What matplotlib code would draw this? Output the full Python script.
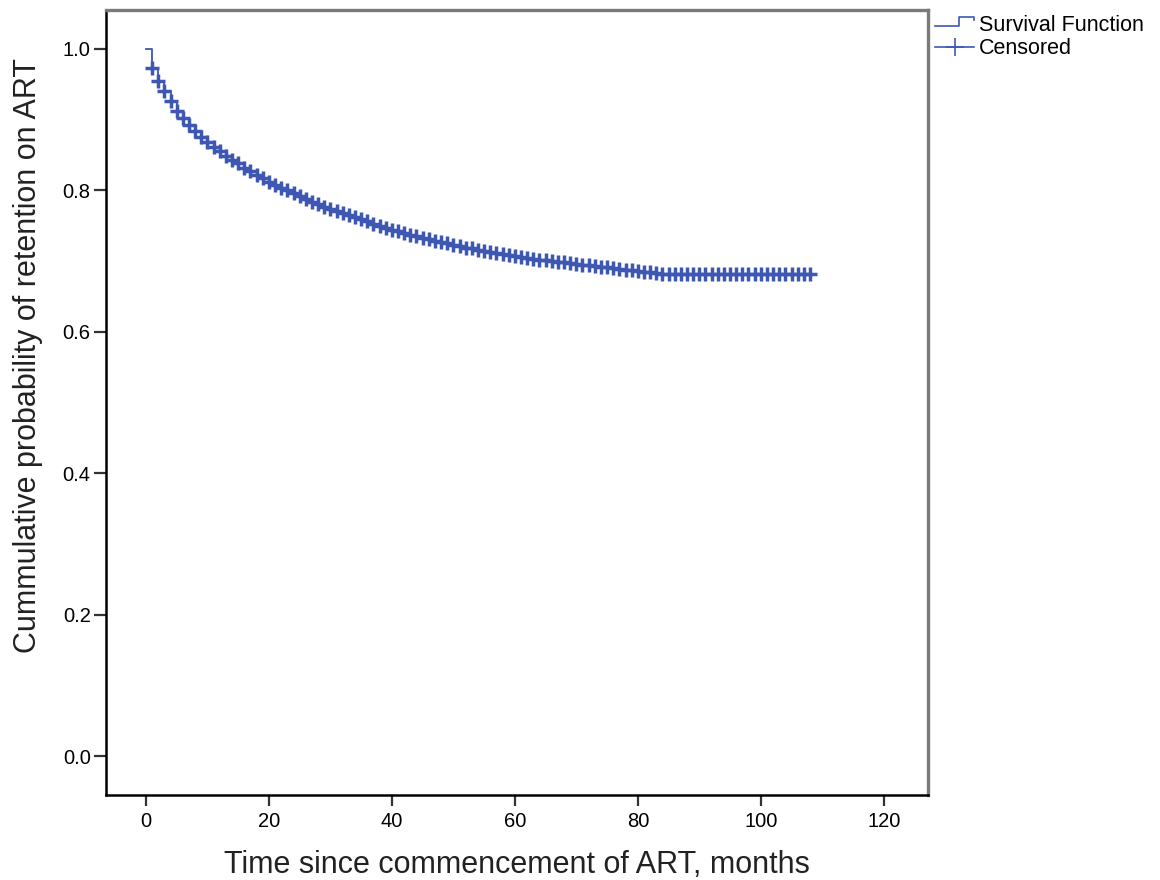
import matplotlib
matplotlib.use("Agg")
import matplotlib.pyplot as plt
from matplotlib.lines import Line2D
from matplotlib.legend_handler import HandlerBase
import numpy as np

plt.rcParams['font.family'] = ['Liberation Sans', 'DejaVu Sans']

# Kaplan-Meier estimate, one value per month
months = list(range(0, 109))
surv = [1.000, 0.973, 0.955, 0.940, 0.927, 0.912, 0.902, 0.893, 0.884, 0.876,
        0.868, 0.861, 0.855, 0.849, 0.843, 0.838, 0.832, 0.827, 0.822, 0.817,
        0.812, 0.808, 0.804, 0.800, 0.796, 0.792, 0.788, 0.784, 0.781, 0.777,
        0.774, 0.771, 0.768, 0.765, 0.762, 0.759, 0.756, 0.753, 0.750, 0.747,
        0.744, 0.742, 0.739, 0.737, 0.735, 0.733, 0.731, 0.729, 0.727, 0.725,
        0.723, 0.721, 0.719, 0.718, 0.716, 0.714, 0.713, 0.711, 0.710, 0.708,
        0.707, 0.706, 0.705, 0.703, 0.702, 0.701, 0.700, 0.699, 0.698, 0.697,
        0.696, 0.695, 0.694, 0.693, 0.692, 0.691, 0.690, 0.689, 0.688, 0.687,
        0.686, 0.685, 0.684, 0.683] + [0.682] * 25
censor_t = months[1:]
censor_s = surv[1:]

xticks = [0, 20, 40, 60, 80, 100, 120]
yticks = [0.0, 0.2, 0.4, 0.6, 0.8, 1.0]

BLUE = "#3d57b3"


class StepHandler(HandlerBase):
    # little step glyph like SPSS legend
    def create_artists(self, legend, orig_handle, xdescent, ydescent,
                       width, height, fontsize, trans):
        x0, x1 = -xdescent, -xdescent + width
        ylo = -ydescent + height * 0.3
        yhi = -ydescent + height * 0.95
        xs = [x0, x0 + width * 0.6, x0 + width * 0.6, x1, x1]
        ys = [ylo, ylo, yhi, yhi, yhi - height * 0.2]
        ln = Line2D(xs, ys, color=orig_handle.get_color(), lw=1.2)
        ln.set_transform(trans)
        return [ln]


fig = plt.figure(figsize=(11.6, 8.8), dpi=100)
ax = fig.add_axes([0.0914, 0.0966, 0.7086, 0.892])

step_line, = ax.plot(months, surv, drawstyle="steps-post",
                     color=BLUE, lw=1.3)
ax.plot(censor_t, censor_s, linestyle="none", marker="+", color=BLUE,
        markersize=9.5, markeredgewidth=2.5)

ax.set_xlim(-6.5, 127.2)
ax.set_ylim(-0.055, 1.055)
ax.set_xticks(xticks)
ax.set_yticks(yticks)
ax.set_xticklabels([str(t) for t in xticks])
ax.set_yticklabels(["%.1f" % t for t in yticks])
ax.tick_params(direction="out", length=9, width=1.6, labelsize=14.5,
               color="#333333", pad=2)
ax.tick_params(axis="x", length=8, pad=4)

for s in ["left", "bottom"]:
    ax.spines[s].set_color("black")
    ax.spines[s].set_linewidth(1.8)
for s in ["top", "right"]:
    ax.spines[s].set_color("#7a7a7a")
    ax.spines[s].set_linewidth(2.4)

ax.set_xlabel("Time since commencement of ART, months", fontsize=22,
              labelpad=14, color="#222222")
ax.set_ylabel("Cummulative probability of retention on ART", fontsize=22,
              color="#222222")
ax.yaxis.set_label_coords(-0.077, 0.56)

h_surv = Line2D([], [], color=BLUE, lw=1.2)
h_cens = Line2D([], [], color=BLUE, lw=1.2, marker="+", markersize=13,
                markeredgewidth=1.2)
leg = fig.legend([h_surv, h_cens], ["Survival Function", "Censored"],
                 handler_map={h_surv: StepHandler()},
                 loc="upper left", bbox_to_anchor=(0.802, 0.988),
                 frameon=False, fontsize=15.5, handlelength=1.85,
                 handletextpad=0.2, labelspacing=0.12, borderaxespad=0,
                 borderpad=0.2, numpoints=1)

fig.savefig("out.png", dpi=100)
